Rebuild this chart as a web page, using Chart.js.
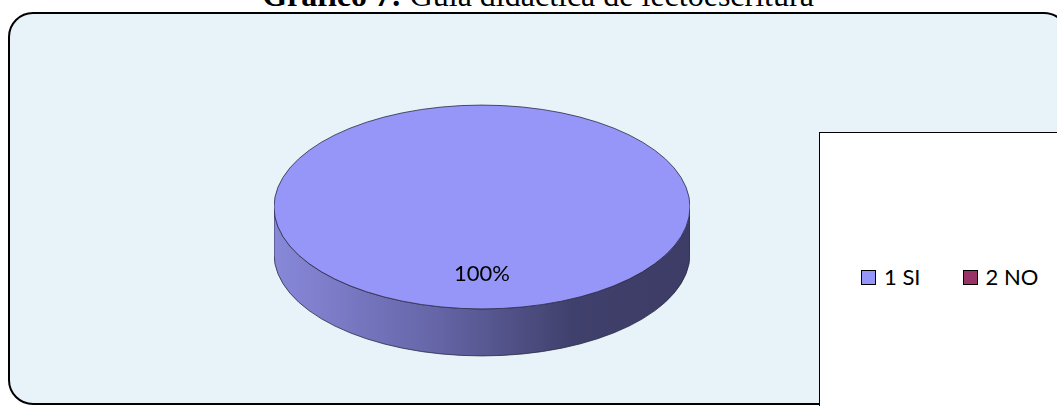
<!DOCTYPE html>
<html>
<head>
<meta charset="utf-8">
<script src="https://cdn.jsdelivr.net/npm/chart.js@4.4.1/dist/chart.umd.min.js"></script>
<style>
    html, body { margin: 0; padding: 0; background: #fff; }
    #page { position: relative; width: 1057px; height: 406px; overflow: hidden; background: #fff; }
    #title {
        position: absolute; left: 0; top: -21px; width: 1076px; text-align: center;
        font-family: "Liberation Serif", "Times New Roman", serif; font-size: 32px; line-height: 32px;
        color: #000; white-space: nowrap;
    }
    #frame {
        position: absolute; left: 8px; top: 12px; width: 1061px; height: 393px;
        box-sizing: border-box; border: 2px solid #000; border-radius: 25px; background: #e8f3f9;
    }
    #pieWrap { position: absolute; left: 274px; top: -1px; width: 416px; height: 416px; }
    #legend {
        position: absolute; left: 819px; top: 132px; width: 300px; height: 300px;
        box-sizing: border-box; border: 1.5px solid #000; background: #fff;
    }
    #legendItems {
        position: absolute; left: 41px; top: 133px; display: flex; align-items: center;
        font-family: Lato, "Noto Sans", sans-serif; font-size: 22px; line-height: 22px; color: #000;
    }
    .item { display: flex; align-items: center; margin-right: 42px; }
    .swatch { width: 15px; height: 15px; box-sizing: border-box; border: 1.5px solid #000; margin-right: 8px; }
</style>
</head>
<body>
<div id="page">
    <div id="title"><b>Gráfico 7:</b> Guía didáctica de lectoescritura</div>
    <div id="frame"></div>
    <div id="pieWrap"><canvas id="pieChart" width="416" height="416"></canvas></div>
    <div id="legend"><div id="legendItems"></div></div>
</div>
<script>
const categories = ['1 SI', '2 NO'];
const values = [100, 0];
const sliceColors = ['#9696f8', '#993366'];

// squashes the flat pie into an ellipse and adds the 3D side
const pie3d = {
    id: 'pie3d',
    beforeDatasetsDraw(chart, args, opts) {
        const arc = chart.getDatasetMeta(0).data[0];
        const { x, y, outerRadius: r } = arc.getProps(['x', 'y', 'outerRadius'], true);
        const ctx = chart.ctx;
        const ry = r * opts.tilt, d = opts.depth;

        ctx.save();
        const g = ctx.createLinearGradient(x - r, 0, x + r, 0);
        g.addColorStop(0, '#8888da');
        g.addColorStop(0.4, '#6464a6');
        g.addColorStop(0.72, '#40406c');
        g.addColorStop(1, '#3c3c66');
        ctx.beginPath();
        ctx.ellipse(x, y, r, ry, 0, Math.PI, 0, true);
        ctx.lineTo(x + r, y + d);
        ctx.ellipse(x, y + d, r, ry, 0, 0, Math.PI, false);
        ctx.closePath();
        ctx.fillStyle = g;
        ctx.fill();
        ctx.strokeStyle = '#2a2a44';
        ctx.lineWidth = 0.8;
        ctx.stroke();
        ctx.restore();

        ctx.save();
        ctx.translate(x, y);
        ctx.scale(1, opts.tilt);
        ctx.translate(-x, -y);
    },
    afterDatasetsDraw(chart, args, opts) {
        const ctx = chart.ctx;
        ctx.restore();
        const meta = chart.getDatasetMeta(0);
        const { x, y, outerRadius: r } = meta.data[0].getProps(['x', 'y', 'outerRadius'], true);

        ctx.save();
        ctx.beginPath();
        ctx.ellipse(x, y, r, r * opts.tilt, 0, 0, Math.PI * 2);
        ctx.strokeStyle = '#2a2a44';
        ctx.lineWidth = 0.8;
        ctx.stroke();

        const total = values.reduce((a, b) => a + b, 0);
        ctx.fillStyle = '#000';
        ctx.font = '22px Lato, "Noto Sans", sans-serif';
        ctx.textAlign = 'center';
        ctx.textBaseline = 'middle';
        meta.data.forEach((el, i) => {
            if (!values[i]) return;
            const p = el.getProps(['startAngle', 'endAngle'], true);
            const mid = (p.startAngle + p.endAngle) / 2;
            const lx = x + Math.cos(mid) * r * opts.labelPos;
            const ly = y + Math.sin(mid) * r * opts.labelPos * opts.tilt;
            ctx.fillText(Math.round(values[i] / total * 100) + '%', lx, ly);
        });
        ctx.restore();
    }
};

const pieChart = new Chart(document.getElementById('pieChart'), {
    type: 'pie',
    data: {
        labels: categories,
        datasets: [{
            data: values,
            backgroundColor: sliceColors,
            borderWidth: 0
        }]
    },
    options: {
        responsive: false,
        animation: false,
        events: [],
        layout: { padding: 0 },
        plugins: {
            legend: { display: false },
            tooltip: { enabled: false },
            pie3d: { tilt: 0.49, depth: 47, labelPos: 0.66 }
        }
    },
    plugins: [pie3d]
});

// html legend built from the chart data
const legendEl = document.getElementById('legendItems');
categories.forEach((label, i) => {
    const item = document.createElement('div');
    item.className = 'item';
    const sw = document.createElement('span');
    sw.className = 'swatch';
    sw.style.background = sliceColors[i];
    const txt = document.createElement('span');
    txt.textContent = label;
    item.appendChild(sw);
    item.appendChild(txt);
    legendEl.appendChild(item);
});
</script>
</body>
</html>
